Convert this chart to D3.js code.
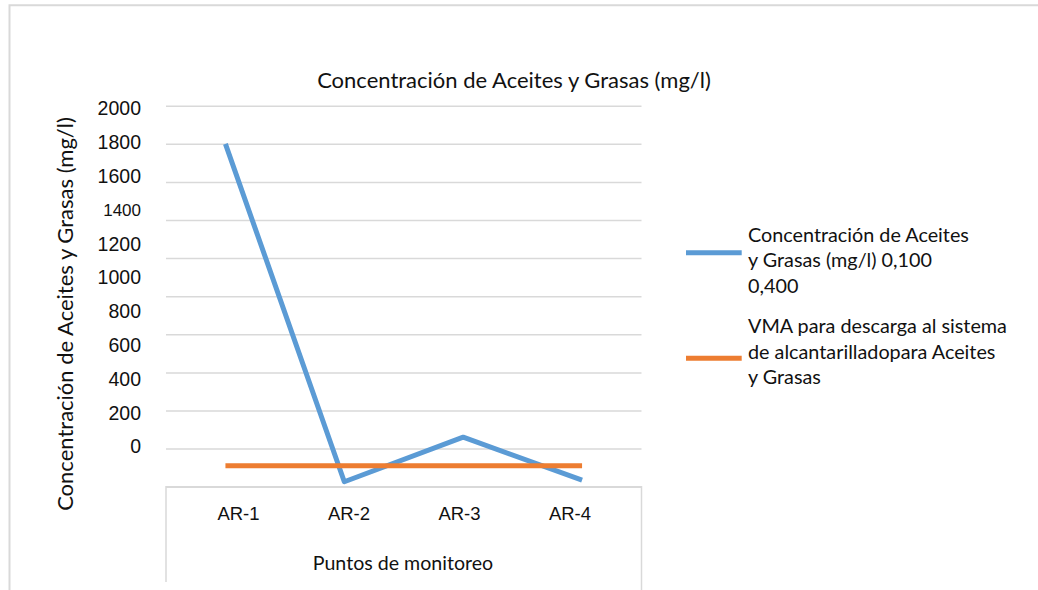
<!DOCTYPE html>
<html>
<head>
<meta charset="utf-8">
<script src="https://cdn.jsdelivr.net/npm/d3@7"></script>
<style>
  body { margin: 0; background: #fff; }
  svg { display: block; font-family: Lato, "Open Sans", sans-serif; }
</style>
</head>
<body>
<svg id="Chart"></svg>
<script>
// data
let categories = ['AR-1', 'AR-2', 'AR-3', 'AR-4'];
let concentracion = [1800, 26, 260, 34];
let vma = [110, 110, 110, 110];
let yTicks = [0, 200, 400, 600, 800, 1000, 1200, 1400, 1600, 1800, 2000];
let seriesNames = [
    ['Concentración de Aceites', 'y Grasas (mg/l) 0,100', '0,400'],
    ['VMA para descarga al sistema', 'de alcantarilladopara Aceites', 'y Grasas']
];
let seriesColors = ['#5B9BD5', '#ED7D31'];

function getConfig() {
    let width = 1038;
    let height = 590;
    let plot = { left: 166, right: 641.5, top: 105.7, bottom: 486.7 };
    let container = d3.select('#Chart')
        .attr('width', width)
        .attr('height', height);
    return { width, height, plot, container };
}

function getScales(config) {
    let { plot } = config;
    let xScale = d3.scaleBand()
        .domain(categories)
        .range([plot.left, plot.right]);
    let yScale = d3.scaleLinear()
        .domain([0, 2000])
        .range([plot.bottom, plot.top]);
    // the tick labels in the picture don't sit on the gridlines, they are squeezed
    let yLabelScale = d3.scaleLinear()
        .domain([0, 2000])
        .range([446.7, 108.7]);
    let xLabelScale = d3.scalePoint()
        .domain(categories)
        .range([238, 569.5]);
    return { xScale, yScale, yLabelScale, xLabelScale };
}

function drawFrame(config) {
    let { container } = config;
    container.append('path')
        .attr('d', 'M9.5,600V5.3H1040')
        .attr('fill', 'none')
        .attr('stroke', '#D9D9D9')
        .attr('stroke-width', 2);
}

function drawGrid(scales, config) {
    let { yScale } = scales;
    let { container, plot } = config;
    let grid = container.append('g')
        .attr('transform', `translate(${plot.left},0)`)
        .call(d3.axisLeft(yScale)
            .tickValues(yTicks)
            .tickSize(-(plot.right - plot.left))
            .tickFormat(''));
    grid.select('.domain').remove();
    grid.selectAll('line')
        .attr('stroke', '#D9D9D9')
        .attr('stroke-width', 1.5);

    // category box under the plot
    container.append('path')
        .attr('d', `M${plot.left},582V${plot.bottom}H${plot.right}V590`)
        .attr('fill', 'none')
        .attr('stroke', '#D9D9D9')
        .attr('stroke-width', 1.5);
}

function drawAxes(scales, config) {
    let { yLabelScale, xLabelScale } = scales;
    let { container } = config;

    let axisY = container.append('g')
        .attr('transform', 'translate(141,0)')
        .call(d3.axisLeft(yLabelScale).tickValues(yTicks).tickSize(0).tickPadding(0).tickFormat(d => d));
    axisY.select('.domain').remove();
    axisY.selectAll('text')
        .attr('fill', '#111')
        .style('font-size', d => d === 1400 ? '17px' : '19.5px');

    let axisX = container.append('g')
        .attr('transform', 'translate(0,507)')
        .call(d3.axisBottom(xLabelScale).tickSize(0).tickPadding(0));
    axisX.select('.domain').remove();
    axisX.selectAll('text')
        .attr('fill', '#111')
        .style('font-size', '18.5px');

    container.append('text')
        .attr('x', 403)
        .attr('y', 570)
        .attr('text-anchor', 'middle')
        .attr('fill', '#111')
        .style('font-size', '19.6px')
        .text('Puntos de monitoreo');

    container.append('text')
        .attr('transform', 'translate(73,314) rotate(-90)')
        .attr('text-anchor', 'middle')
        .attr('fill', '#111')
        .style('font-size', '22px')
        .text('Concentración de Aceites y Grasas (mg/l)');

    container.append('text')
        .attr('x', 514)
        .attr('y', 88)
        .attr('text-anchor', 'middle')
        .attr('fill', '#111')
        .style('font-size', '22px')
        .text('Concentración de Aceites y Grasas (mg/l)');
}

function drawLines(scales, config) {
    let { xScale, yScale } = scales;
    let { container } = config;
    let half = xScale.bandwidth() / 2;
    let line = d3.line()
        .x((d, i) => xScale(categories[i]) + half)
        .y(d => yScale(d));

    [concentracion, vma].forEach((values, i) => {
        container.append('path')
            .datum(values)
            .attr('d', line)
            .attr('fill', 'none')
            .attr('stroke', seriesColors[i])
            .attr('stroke-width', 5)
            .attr('stroke-linejoin', 'round');
    });
}

function drawLegend(config) {
    let { container } = config;
    let entryTop = [241.7, 333];
    let symbolOffset = [11, 25.3];
    let lineHeight = 25.5;

    seriesNames.forEach((lines, i) => {
        let g = container.append('g');
        g.append('line')
            .attr('x1', 686)
            .attr('x2', 741.7)
            .attr('y1', entryTop[i] + symbolOffset[i])
            .attr('y2', entryTop[i] + symbolOffset[i])
            .attr('stroke', seriesColors[i])
            .attr('stroke-width', 5);
        g.selectAll('text').data(lines)
            .enter().append('text')
            .attr('x', 748)
            .attr('y', (d, j) => entryTop[i] + j * lineHeight)
            .attr('fill', '#111')
            .style('font-size', '19.8px')
            .text(d => d);
    });
}

function drawChart() {
    let config = getConfig();
    let scales = getScales(config);
    drawFrame(config);
    drawGrid(scales, config);
    drawLines(scales, config);
    drawAxes(scales, config);
    drawLegend(config);
}

drawChart();
</script>
</body>
</html>
